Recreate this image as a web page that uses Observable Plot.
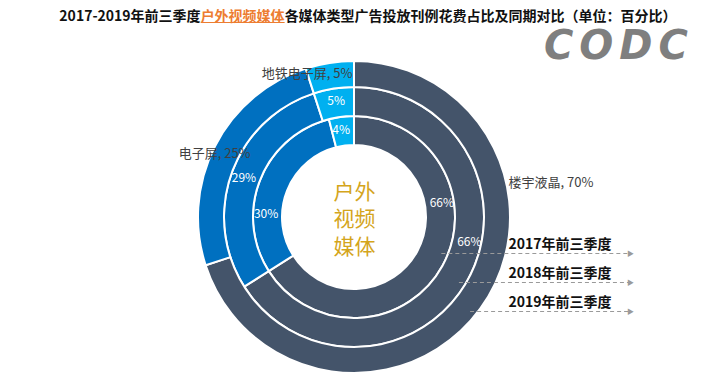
<!DOCTYPE html>
<html><head><meta charset="utf-8">
<script src="https://cdn.jsdelivr.net/npm/d3@7"></script>
<script src="https://cdn.jsdelivr.net/npm/@observablehq/plot@0.6"></script>
<style>
body{margin:0;background:#fff;font-family:"Noto Sans CJK SC","Noto Sans",sans-serif;}
#wrap{position:relative;width:725px;height:384px;overflow:hidden;}
#title{height:30px;line-height:30px;text-align:center;font-weight:bold;font-size:14px;color:#111;padding-left:11px;white-space:nowrap;}
#title .hl{color:#ED7D31;text-decoration:underline;}
#logo{position:absolute;left:544px;top:25px;font-family:"DejaVu Sans",sans-serif;font-weight:bold;font-style:italic;font-size:40px;line-height:40px;color:#7f7f7f;letter-spacing:6px;z-index:2;}
</style></head>
<body>
<div id="wrap">
<div id="title">2017-2019年前三季度<span class="hl">户外视频媒体</span>各媒体类型广告投放刊例花费占比及同期对比（单位：百分比）</div>
<div id="logo">CODC</div>
<div id="chart"></div>
</div>
<script>
// ---- data ----
const categories = ["楼宇液晶", "电子屏", "地铁电子屏"];
const years = ["2017年前三季度", "2018年前三季度", "2019年前三季度"];
const share2017 = [66, 30, 4];
const share2018 = [66, 29, 5];
const share2019 = [70, 25, 5];
const centerLabel = "户外\n视频\n媒体";

// ---- layout / style ----
const colors = ["#44546A", "#0070C0", "#00B0F0"];
const radii = [[72, 101], [101, 130], [130, 156]];
const labelAlong = [[0.34, 0.32, 0.4], [0.43, 0.5, 0.5]];
const outerLayout = [
  {deg: 77.2, r: 158, anchor: "start"},
  {deg: 301.6, r: 122, anchor: "end"},
  {deg: 359.2, r: 144, anchor: "end"}
];
const rowY = [-36, -65, -94];
const arrowEndX = 276;
const yearLabelX = 154;

const W = 725, H = 354, CX = 354, CY = 187;
const polar = (frac, r) => [r * Math.sin(2 * Math.PI * frac), r * Math.cos(2 * Math.PI * frac)];

const shares = [share2017, share2018, share2019];
const slices = [];
shares.forEach((vals, ring) => {
  const total = d3.sum(vals);
  let acc = 0;
  vals.forEach((v, i) => {
    slices.push({ring, ci: i, cat: categories[i], value: v, start: acc / total, end: (acc + v) / total});
    acc += v;
  });
});
const color = d3.scaleOrdinal(categories, colors);

const innerLabels = slices.filter(d => d.ring < 2).map(d => {
  const f = d.start + (d.end - d.start) * labelAlong[d.ring][d.ci];
  const r = (radii[d.ring][0] + radii[d.ring][1]) / 2 + 2;
  const [x, y] = polar(f, r);
  return {x, y, text: d.value + "%"};
});
const outerLabels = slices.filter(d => d.ring === 2).map(d => {
  const L = outerLayout[d.ci];
  const [x, y] = polar(L.deg / 360, L.r);
  return {x, y, anchor: L.anchor, text: `${d.cat}, ${d.value}%`};
});
const rows = years.map((yr, i) => {
  const r = radii[i][1] - 7;
  const y = rowY[i];
  return {year: yr, x1: Math.sqrt(r * r - y * y), y, x2: arrowEndX, ly: y + 9};
});

const rings = (index, scales) => {
  const cx = scales.x(0), cy = scales.y(0), k = Math.abs(scales.x(1) - scales.x(0));
  const arc = d3.arc();
  const g = d3.create("svg:g").attr("transform", `translate(${cx},${cy})`);
  g.selectAll("path").data(slices).join("path")
    .attr("d", d => arc({innerRadius: radii[d.ring][0] * k, outerRadius: radii[d.ring][1] * k,
      startAngle: d.start * 2 * Math.PI, endAngle: d.end * 2 * Math.PI}))
    .attr("fill", d => color(d.cat))
    .attr("stroke", "white").attr("stroke-width", 2).attr("stroke-linejoin", "round");
  return g.node();
};

const font = '"Noto Sans CJK SC", "Noto Sans", sans-serif';
const chart = Plot.plot({
  width: W, height: H,
  margin: 0,
  x: {domain: [-CX, W - CX], axis: null},
  y: {domain: [-(H - CY), CY], axis: null},
  style: {fontFamily: font, background: "white", overflow: "visible"},
  marks: [
    rings,
    Plot.text(innerLabels, {x: "x", y: "y", text: "text", fill: "white", fontSize: 12}),
    Plot.text(outerLabels.filter(d => d.anchor === "start"), {x: "x", y: "y", text: "text", textAnchor: "start", fill: "#404040", fontSize: 13}),
    Plot.text(outerLabels.filter(d => d.anchor === "end"), {x: "x", y: "y", text: "text", textAnchor: "end", fill: "#404040", fontSize: 13}),
    Plot.text([centerLabel], {x: () => 0, y: () => 0, text: d => d, fill: "#D4A51C", fontSize: 21, lineHeight: 1.3}),
    Plot.link(rows, {x1: "x1", y1: "y", x2: "x2", y2: "y", stroke: "#9a9a9a", strokeWidth: 1, strokeDasharray: "4,3"}),
    Plot.text(rows, {x: "x2", y: "y", text: () => "▶", fill: "#9a9a9a", fontSize: 7}),
    Plot.text(rows, {x: () => yearLabelX, y: "ly", text: "year", textAnchor: "start", fill: "#111", fontSize: 14, fontWeight: "bold"})
  ]
});
document.getElementById("chart").appendChild(chart);
</script>
</body></html>
